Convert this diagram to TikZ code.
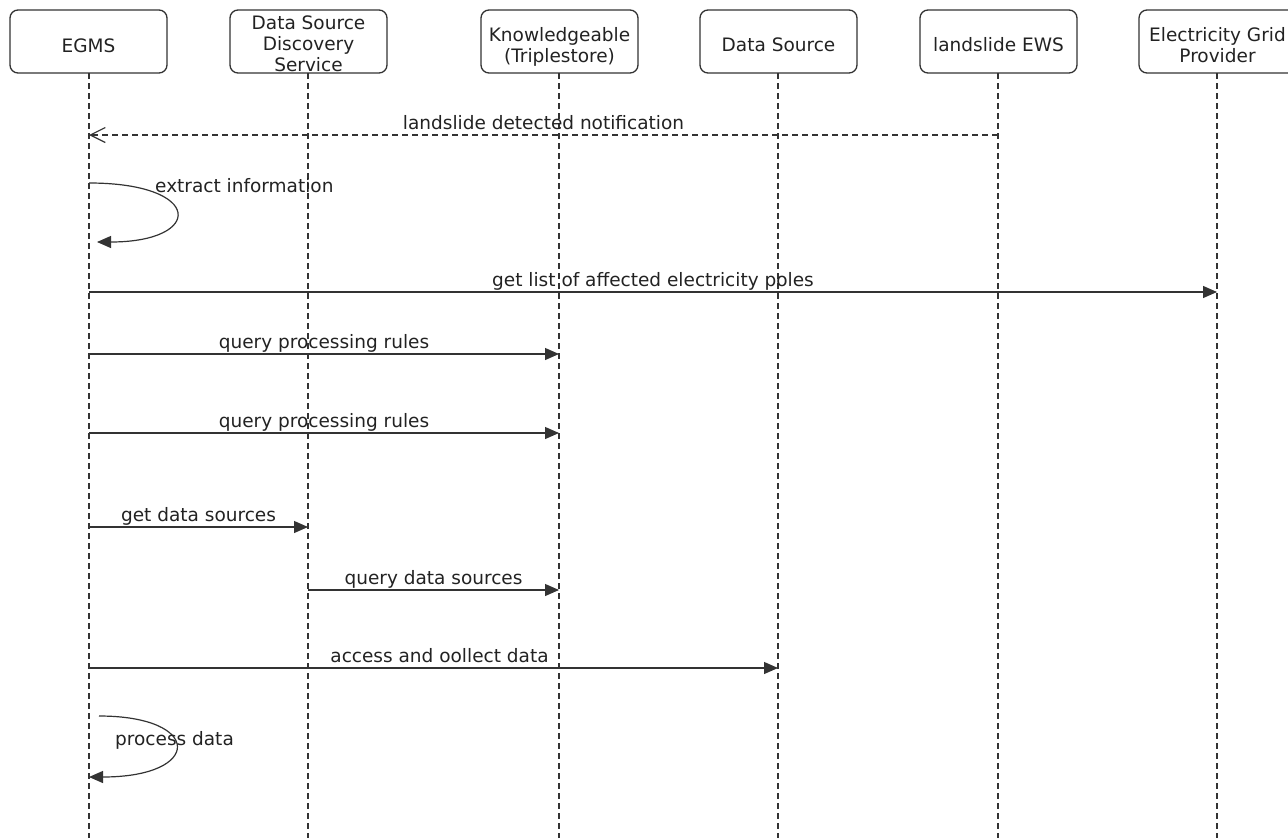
\documentclass[tikz,border=0pt]{standalone}
\usepackage{fontspec}
\setmainfont{DejaVu Sans}
\usetikzlibrary{arrows.meta,calc}
\definecolor{ln}{HTML}{333333}
\definecolor{tx}{HTML}{222222}
\tikzset{
  actor/.style={draw=ln, line width=1.3pt, rounded corners=8pt, minimum width=157pt, minimum height=63pt, inner sep=0pt},
  hd/.style={text=tx, inner sep=0pt, anchor=base},
  life/.style={draw=ln, line width=1.3pt, dash pattern=on 6pt off 4pt},
  msg/.style={draw=ln, line width=1.2pt, -{Triangle[length=14pt,width=12pt]}},
  rep/.style={draw=ln, line width=1.2pt, dash pattern=on 6pt off 4pt, -{Straight Barb[length=15pt,width=15pt]}},
  lbl/.style={text=tx, inner sep=0pt, anchor=base, yshift=6pt},
  slbl/.style={text=tx, inner sep=0pt, anchor=base west}
}
\begin{document}
\begin{tikzpicture}[x=1pt,y=-1pt,font=\fontsize{18.5}{21}\selectfont]
\useasboundingbox (0,0) rectangle (1288,838);
\clip (0,0) rectangle (1288,838);
% actors
\node[actor] (egms) at (88.5,41.5) {};
\node[actor] (dsds) at (308.5,41.5) {};
\node[actor] (kg) at (559.5,41.5) {};
\node[actor] (ds) at (778.5,41.5) {};
\node[actor] (ews) at (998.5,41.5) {};
\node[actor] (egp) at (1217.5,41.5) {};
\node[hd] (t-egms) at (88.5,52) {EGMS};
\node[hd] (t-dsds1) at (308.5,29) {Data Source};
\node[hd] (t-dsds2) at (308.5,50) {Discovery};
\node[hd] (t-dsds3) at (308.5,71) {Service};
\node[hd] (t-kg1) at (559.5,41) {Knowledgeable};
\node[hd] (t-kg2) at (559.5,62) {(Triplestore)};
\node[hd] (t-ds) at (778.5,51) {Data Source};
\node[hd] (t-ews) at (998.5,51) {landslide EWS};
\node[hd] (t-egp1) at (1217.5,41) {Electricity Grid};
\node[hd] (t-egp2) at (1217.5,62) {Provider};
% lifeline ends
\coordinate (egms-e) at (89,838);
\coordinate (dsds-e) at (308,838);
\coordinate (kg-e) at (559,838);
\coordinate (ds-e) at (778,838);
\coordinate (ews-e) at (998,838);
\coordinate (egp-e) at (1217,838);
\draw[life] (89,73) -- (egms-e);
\draw[life] (308,73) -- (dsds-e);
\draw[life] (559,73) -- (kg-e);
\draw[life] (778,73) -- (ds-e);
\draw[life] (998,73) -- (ews-e);
\draw[life] (1217,73) -- (egp-e);
% message anchors
\coordinate (m1a) at (998,135); \coordinate (m1b) at (89,135);
\coordinate (m2a) at (89,183);  \coordinate (m2b) at (97,242);
\coordinate (m3a) at (89,292);  \coordinate (m3b) at (1217,292);
\coordinate (m4a) at (89,354);  \coordinate (m4b) at (559,354);
\coordinate (m5a) at (89,433);  \coordinate (m5b) at (559,433);
\coordinate (m6a) at (89,527);  \coordinate (m6b) at (308,527);
\coordinate (m7a) at (308,590); \coordinate (m7b) at (559,590);
\coordinate (m8a) at (89,668);  \coordinate (m8b) at (778,668);
\coordinate (m9a) at (99,716);  \coordinate (m9b) at (89,777);
% messages
\draw[rep] (m1a) -- node[lbl] (l1) {landslide detected notification} (m1b);
\draw[msg] (m2a) .. controls (204,183) and (204,242) .. (m2b);
\node[slbl] (l2) at (155,192) {extract information};
\draw[msg] (m3a) -- node[lbl] (l3) {get list of affected electricity poles} (m3b);
\draw[msg] (m4a) -- node[lbl] (l4) {query processing rules} (m4b);
\draw[msg] (m5a) -- node[lbl] (l5) {query processing rules} (m5b);
\draw[msg] (m6a) -- node[lbl] (l6) {get data sources} (m6b);
\draw[msg] (m7a) -- node[lbl] (l7) {query data sources} (m7b);
\draw[msg] (m8a) -- node[lbl, xshift=6pt] (l8) {access and oollect data} (m8b);
\draw[msg] (m9a) .. controls (203,716) and (203,777) .. (m9b);
\node[slbl] (l9) at (115,745) {process data};
\end{tikzpicture}
\end{document}
